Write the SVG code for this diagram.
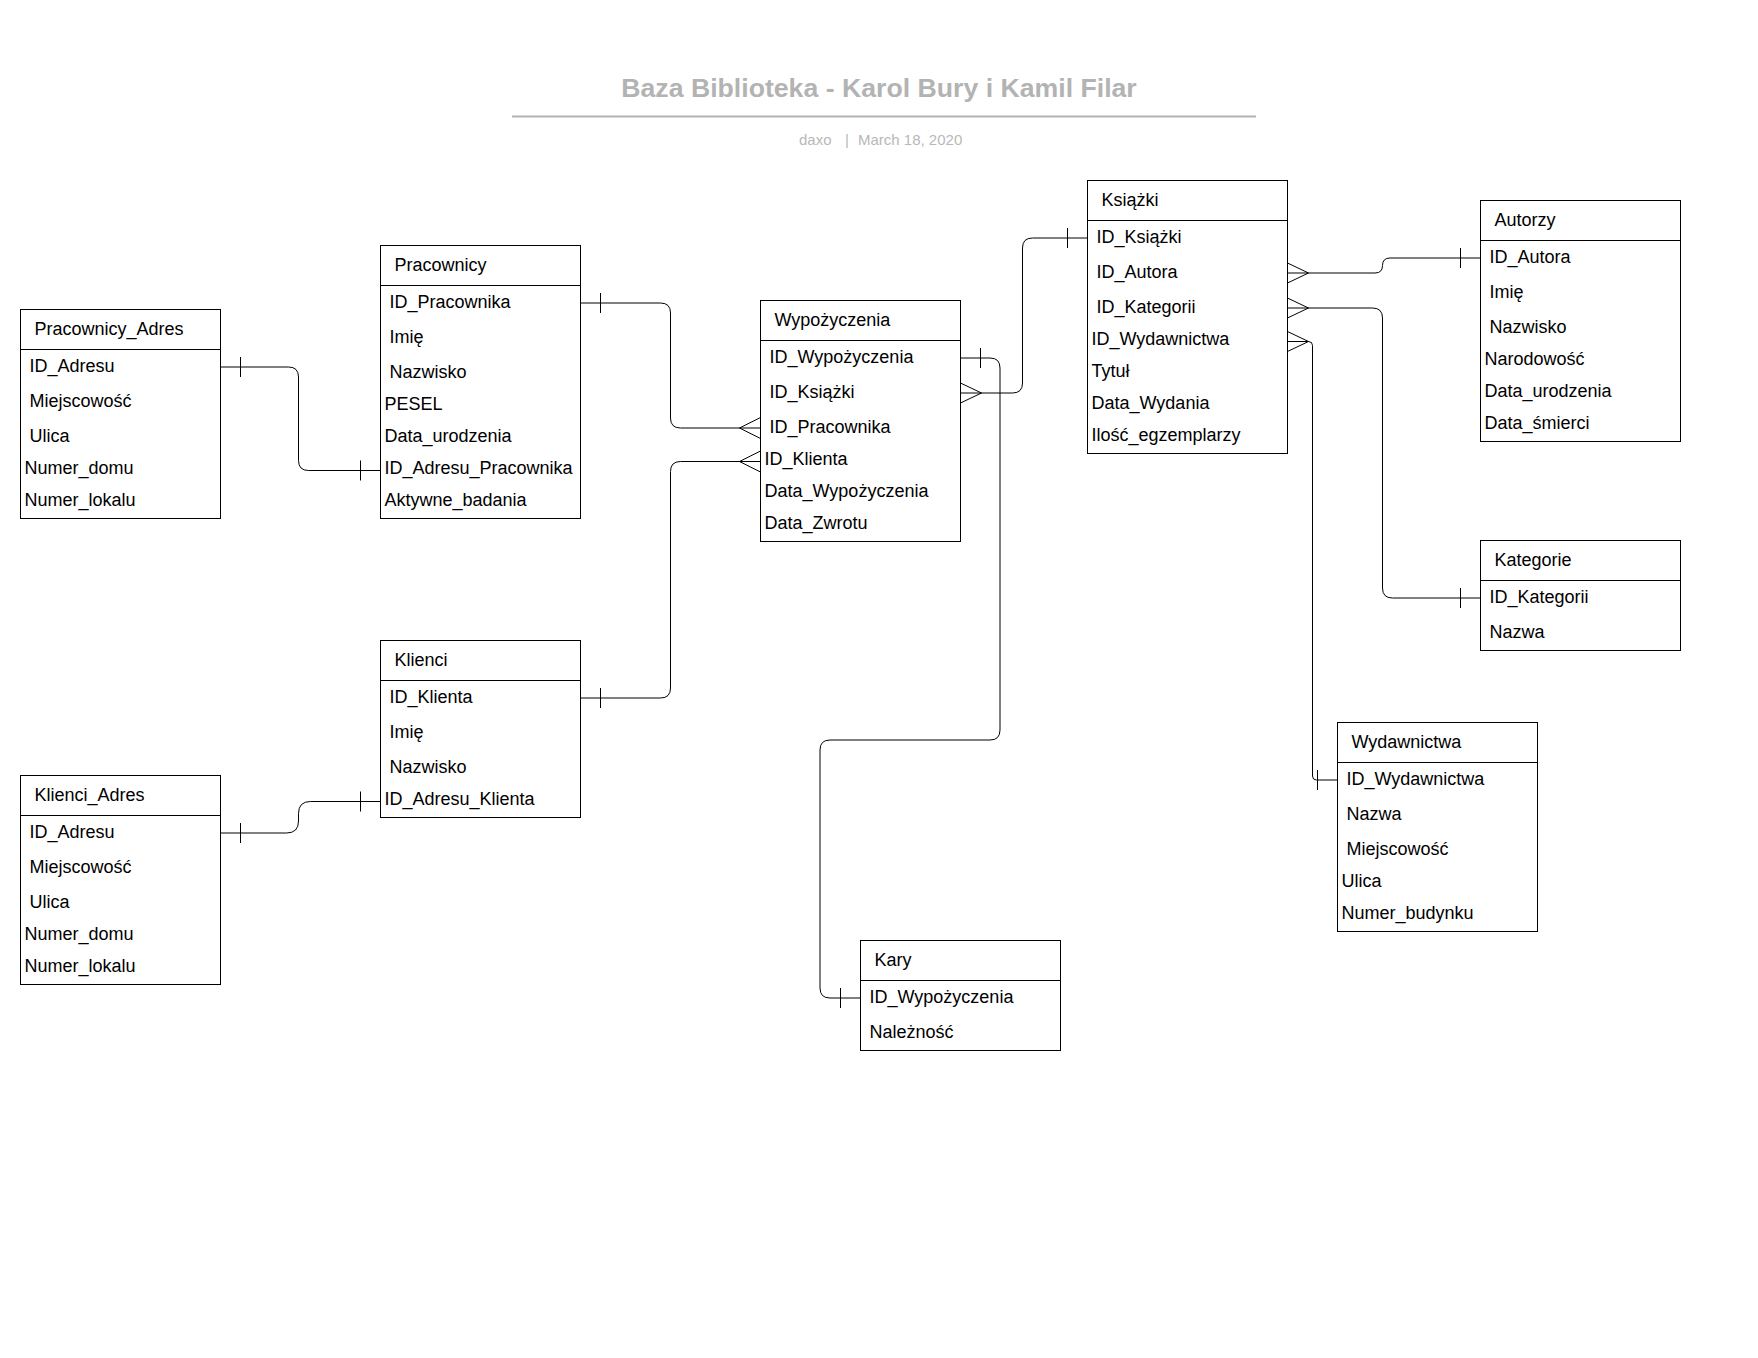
<svg xmlns="http://www.w3.org/2000/svg" width="1758" height="1358" viewBox="0 0 1758 1358">
<style>
.bg{fill:#fff}
.box{fill:#fff;stroke:#000;stroke-width:1}
.sep{stroke:#000;stroke-width:1}
.t{font-family:"Liberation Sans",Arial,sans-serif;font-size:18px;fill:#000}
.c{fill:none;stroke:#000;stroke-width:1}
.title{font-family:"Liberation Sans",Arial,sans-serif;font-size:26.67px;font-weight:bold;fill:#b3b3b3}
.sub{font-family:"Liberation Sans",Arial,sans-serif;font-size:15px;fill:#b8b8b8}
</style>
<rect class="bg" x="0" y="0" width="1758" height="1358"/>
<g id="header">
<text class="title" x="879" y="97" text-anchor="middle">Baza Biblioteka - Karol Bury i Kamil Filar</text>
<line x1="512" y1="116.5" x2="1256" y2="116.5" stroke="#b3b3b3" stroke-width="2"/>
<text class="sub" y="144.5"><tspan x="799">daxo</tspan><tspan x="845">|</tspan><tspan x="858">March 18, 2020</tspan></text>
</g>
<g id="connectors">
<path class="c" d="M220.5,367 H288.5 Q298.5,367 298.5,377 V460.5 Q298.5,470.5 308.5,470.5 H380.5"/>
<path class="c" d="M240.5,357 V377 M360.5,460.5 V480.5"/>
<path class="c" d="M220.5,833 H286.5 Q298.5,833 298.5,821 V813.5 Q298.5,801.5 310.5,801.5 H380.5"/>
<path class="c" d="M240.5,823 V843 M360.5,791.5 V811.5"/>
<path class="c" d="M580.5,303 H660.5 Q670.5,303 670.5,313 V418 Q670.5,428 680.5,428 H760.5"/>
<path class="c" d="M600.5,293 V313 M760.5,417.5 L739.5,428 L760.5,438.5"/>
<path class="c" d="M580.5,698 H660.5 Q670.5,698 670.5,688 V471.5 Q670.5,461.5 680.5,461.5 H760.5"/>
<path class="c" d="M600.5,688 V708 M760.5,451 L739.5,461.5 L760.5,472"/>
<path class="c" d="M960.5,358 H990 Q1000,358 1000,368 V730 Q1000,740 990,740 H830 Q820,740 820,750 V988 Q820,998 830,998 H860.5"/>
<path class="c" d="M980.5,348 V368 M840.5,988 V1008"/>
<path class="c" d="M960.5,393 H1012.5 Q1022.5,393 1022.5,383 V248 Q1022.5,238 1032.5,238 H1087.5"/>
<path class="c" d="M960.5,383 L981.5,393 L960.5,403 M1067.5,228 V248"/>
<path class="c" d="M1287.5,273 H1375 Q1382.5,273 1382.5,265.5 Q1382.5,258 1390,258 H1480.5"/>
<path class="c" d="M1287.5,263 L1308.5,273 L1287.5,283 M1460.5,248 V268"/>
<path class="c" d="M1287.5,308 H1372.5 Q1382.5,308 1382.5,318 V588 Q1382.5,598 1392.5,598 H1480.5"/>
<path class="c" d="M1287.5,298 L1308.5,308 L1287.5,318 M1460.5,588 V608"/>
<path class="c" d="M1287.5,341.5 H1308.5 Q1312.5,341.5 1312.5,345.5 V776 Q1312.5,780 1316.5,780 H1337.5"/>
<path class="c" d="M1287.5,331.5 L1308.5,341.5 L1287.5,351.5 M1317.5,770 V790"/>
</g>
<g id="Pracownicy_Adres">
<rect class="box" x="20.5" y="309.5" width="200" height="209"/>
<line class="sep" x1="20.5" y1="349.5" x2="220.5" y2="349.5"/>
<text class="t" x="34.5" y="335">Pracownicy_Adres</text>
<text class="t" x="29.5" y="372">ID_Adresu</text>
<text class="t" x="29.5" y="407">Miejscowość</text>
<text class="t" x="29.5" y="442">Ulica</text>
<text class="t" x="24.5" y="474">Numer_domu</text>
<text class="t" x="24.5" y="506">Numer_lokalu</text>
</g>
<g id="Pracownicy">
<rect class="box" x="380.5" y="245.5" width="200" height="273"/>
<line class="sep" x1="380.5" y1="285.5" x2="580.5" y2="285.5"/>
<text class="t" x="394.5" y="271">Pracownicy</text>
<text class="t" x="389.5" y="308">ID_Pracownika</text>
<text class="t" x="389.5" y="343">Imię</text>
<text class="t" x="389.5" y="378">Nazwisko</text>
<text class="t" x="384.5" y="410">PESEL</text>
<text class="t" x="384.5" y="442">Data_urodzenia</text>
<text class="t" x="384.5" y="474">ID_Adresu_Pracownika</text>
<text class="t" x="384.5" y="506">Aktywne_badania</text>
</g>
<g id="Wypozyczenia">
<rect class="box" x="760.5" y="300.5" width="200" height="241"/>
<line class="sep" x1="760.5" y1="340.5" x2="960.5" y2="340.5"/>
<text class="t" x="774.5" y="326">Wypożyczenia</text>
<text class="t" x="769.5" y="363">ID_Wypożyczenia</text>
<text class="t" x="769.5" y="398">ID_Książki</text>
<text class="t" x="769.5" y="433">ID_Pracownika</text>
<text class="t" x="764.5" y="465">ID_Klienta</text>
<text class="t" x="764.5" y="497">Data_Wypożyczenia</text>
<text class="t" x="764.5" y="529">Data_Zwrotu</text>
</g>
<g id="Ksiazki">
<rect class="box" x="1087.5" y="180.5" width="200" height="273"/>
<line class="sep" x1="1087.5" y1="220.5" x2="1287.5" y2="220.5"/>
<text class="t" x="1101.5" y="206">Książki</text>
<text class="t" x="1096.5" y="243">ID_Książki</text>
<text class="t" x="1096.5" y="278">ID_Autora</text>
<text class="t" x="1096.5" y="313">ID_Kategorii</text>
<text class="t" x="1091.5" y="345">ID_Wydawnictwa</text>
<text class="t" x="1091.5" y="377">Tytuł</text>
<text class="t" x="1091.5" y="409">Data_Wydania</text>
<text class="t" x="1091.5" y="441">Ilość_egzemplarzy</text>
</g>
<g id="Autorzy">
<rect class="box" x="1480.5" y="200.5" width="200" height="241"/>
<line class="sep" x1="1480.5" y1="240.5" x2="1680.5" y2="240.5"/>
<text class="t" x="1494.5" y="226">Autorzy</text>
<text class="t" x="1489.5" y="263">ID_Autora</text>
<text class="t" x="1489.5" y="298">Imię</text>
<text class="t" x="1489.5" y="333">Nazwisko</text>
<text class="t" x="1484.5" y="365">Narodowość</text>
<text class="t" x="1484.5" y="397">Data_urodzenia</text>
<text class="t" x="1484.5" y="429">Data_śmierci</text>
</g>
<g id="Kategorie">
<rect class="box" x="1480.5" y="540.5" width="200" height="110"/>
<line class="sep" x1="1480.5" y1="580.5" x2="1680.5" y2="580.5"/>
<text class="t" x="1494.5" y="566">Kategorie</text>
<text class="t" x="1489.5" y="603">ID_Kategorii</text>
<text class="t" x="1489.5" y="638">Nazwa</text>
</g>
<g id="Wydawnictwa">
<rect class="box" x="1337.5" y="722.5" width="200" height="209"/>
<line class="sep" x1="1337.5" y1="762.5" x2="1537.5" y2="762.5"/>
<text class="t" x="1351.5" y="748">Wydawnictwa</text>
<text class="t" x="1346.5" y="785">ID_Wydawnictwa</text>
<text class="t" x="1346.5" y="820">Nazwa</text>
<text class="t" x="1346.5" y="855">Miejscowość</text>
<text class="t" x="1341.5" y="887">Ulica</text>
<text class="t" x="1341.5" y="919">Numer_budynku</text>
</g>
<g id="Klienci">
<rect class="box" x="380.5" y="640.5" width="200" height="177"/>
<line class="sep" x1="380.5" y1="680.5" x2="580.5" y2="680.5"/>
<text class="t" x="394.5" y="666">Klienci</text>
<text class="t" x="389.5" y="703">ID_Klienta</text>
<text class="t" x="389.5" y="738">Imię</text>
<text class="t" x="389.5" y="773">Nazwisko</text>
<text class="t" x="384.5" y="805">ID_Adresu_Klienta</text>
</g>
<g id="Klienci_Adres">
<rect class="box" x="20.5" y="775.5" width="200" height="209"/>
<line class="sep" x1="20.5" y1="815.5" x2="220.5" y2="815.5"/>
<text class="t" x="34.5" y="801">Klienci_Adres</text>
<text class="t" x="29.5" y="838">ID_Adresu</text>
<text class="t" x="29.5" y="873">Miejscowość</text>
<text class="t" x="29.5" y="908">Ulica</text>
<text class="t" x="24.5" y="940">Numer_domu</text>
<text class="t" x="24.5" y="972">Numer_lokalu</text>
</g>
<g id="Kary">
<rect class="box" x="860.5" y="940.5" width="200" height="110"/>
<line class="sep" x1="860.5" y1="980.5" x2="1060.5" y2="980.5"/>
<text class="t" x="874.5" y="966">Kary</text>
<text class="t" x="869.5" y="1003">ID_Wypożyczenia</text>
<text class="t" x="869.5" y="1038">Należność</text>
</g>
</svg>
